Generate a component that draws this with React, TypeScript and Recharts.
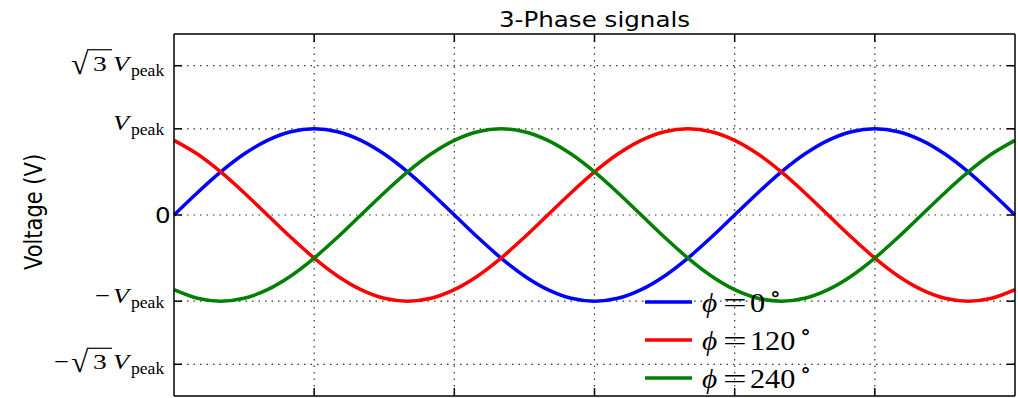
import { CartesianGrid, Legend, Line, LineChart, XAxis, YAxis } from "recharts";

/* -------------------------------------------------------------------------- */
/*  Data                                                                       */
/* -------------------------------------------------------------------------- */

// phase angle in degrees, 15° steps over one and a half cycles
const angles = [
  0, 15, 30, 45, 60, 75, 90, 105, 120, 135, 150, 165, 180, 195, 210, 225, 240,
  255, 270, 285, 300, 315, 330, 345, 360, 375, 390, 405, 420, 435, 450, 465,
  480, 495, 510, 525, 540,
];

// normalised voltage (units of V_peak) for each phase
const phase0 = [
  0, 0.259, 0.5, 0.707, 0.866, 0.966, 1, 0.966, 0.866, 0.707, 0.5, 0.259, 0,
  -0.259, -0.5, -0.707, -0.866, -0.966, -1, -0.966, -0.866, -0.707, -0.5,
  -0.259, 0, 0.259, 0.5, 0.707, 0.866, 0.966, 1, 0.966, 0.866, 0.707, 0.5,
  0.259, 0,
];
const phase120 = [
  0.866, 0.707, 0.5, 0.259, 0, -0.259, -0.5, -0.707, -0.866, -0.966, -1,
  -0.966, -0.866, -0.707, -0.5, -0.259, 0, 0.259, 0.5, 0.707, 0.866, 0.966, 1,
  0.966, 0.866, 0.707, 0.5, 0.259, 0, -0.259, -0.5, -0.707, -0.866, -0.966, -1,
  -0.966, -0.866,
];
const phase240 = [
  -0.866, -0.966, -1, -0.966, -0.866, -0.707, -0.5, -0.259, 0, 0.259, 0.5,
  0.707, 0.866, 0.966, 1, 0.966, 0.866, 0.707, 0.5, 0.259, 0, -0.259, -0.5,
  -0.707, -0.866, -0.966, -1, -0.966, -0.866, -0.707, -0.5, -0.259, 0, 0.259,
  0.5, 0.707, 0.866,
];

const gridAngles = [90, 180, 270, 360, 450];
const voltTicks = [-1.732, -1, 0, 1, 1.732];

const seriesKeys = ["p0", "p120", "p240"];
const phaseNames = ["0", "120", "240"];
const phaseColors = ["#0000ff", "#ff0000", "#008000"];

const rows = angles.map((angle, i) => ({
  angle,
  p0: phase0[i],
  p120: phase120[i],
  p240: phase240[i],
}));

/* -------------------------------------------------------------------------- */
/*  Layout                                                                     */
/* -------------------------------------------------------------------------- */

const W = 1018;
const H = 398;
const LEFT = 174;
const TOP = 34;
const RIGHT = 1015;
const BOTTOM = 396;
const TICK_LEN = 8;
const SERIF = "'Liberation Serif', 'DejaVu Serif', serif";
const SANS = "'DejaVu Sans', sans-serif";

function Serif({
  x,
  y,
  size,
  italic,
  stretch = 1.1,
  children,
}: {
  x: number;
  y: number;
  size: number;
  italic?: boolean;
  stretch?: number;
  children: React.ReactNode;
}) {
  return (
    <text
      transform={`translate(${x},${y}) scale(${stretch},1)`}
      fontFamily={SERIF}
      fontSize={size}
      fontStyle={italic ? "italic" : "normal"}
      fill="#000"
    >
      {children}
    </text>
  );
}

/* -------------------------------------------------------------------------- */
/*  Ticks                                                                      */
/* -------------------------------------------------------------------------- */

function VoltTick(props: any) {
  const { x, y, payload } = props;
  const v = Number(payload.value);
  const mag = Math.abs(v);
  const mark = (
    <line x1={x} x2={x + TICK_LEN} y1={y} y2={y} stroke="#000" strokeWidth={1.5} />
  );
  if (mag === 0) {
    return (
      <g>
        {mark}
        <text
          transform={`translate(${x - 19},${y + 8}) scale(1.2,1)`}
          fontFamily={SANS}
          fontSize={20.5}
          fill="#000"
        >
          0
        </text>
      </g>
    );
  }
  const root = mag > 1.5;
  const base = y + (root ? 5 : 1.5);
  return (
    <g>
      {mark}
      {v < 0 && (
        <Serif x={x - (root ? 120 : 79)} y={base} size={22} stretch={1.2}>
          −
        </Serif>
      )}
      {root && (
        <>
          <Serif x={x - 103} y={base + 3} size={30} stretch={1.05}>
            √
          </Serif>
          <line x1={x - 87} x2={x - 62} y1={base - 21} y2={base - 21} stroke="#000" strokeWidth={1.2} />
          <Serif x={x - 81} y={base} size={22} stretch={1.25}>
            3
          </Serif>
        </>
      )}
      <Serif x={x - 61} y={base} size={21} italic stretch={1.25}>
        V
      </Serif>
      <Serif x={x - 43} y={base + 5} size={16}>
        peak
      </Serif>
    </g>
  );
}

function RightTick(props: any) {
  const { x, y } = props;
  return <line x1={x} x2={x - TICK_LEN} y1={y} y2={y} stroke="#000" strokeWidth={1.5} />;
}

function BottomTick(props: any) {
  const { x, y } = props;
  return <line x1={x} x2={x} y1={y} y2={y - TICK_LEN} stroke="#000" strokeWidth={1.5} />;
}

function TopTick(props: any) {
  const { x, y } = props;
  return <line x1={x} x2={x} y1={y} y2={y + TICK_LEN} stroke="#000" strokeWidth={1.5} />;
}

/* -------------------------------------------------------------------------- */
/*  Legend                                                                     */
/* -------------------------------------------------------------------------- */

function PhaseLegend() {
  return (
    <svg width={220} height={130}>
      {phaseNames.map((name, i) => {
        const ly = 34 + i * 38;
        const base = ly + 9.5;
        return (
          <g key={name}>
            <line x1={5} x2={52} y1={ly} y2={ly} stroke={phaseColors[i]} strokeWidth={3.5} />
            <Serif x={62} y={base} size={28} italic stretch={1.05}>
              ϕ
            </Serif>
            <Serif x={83} y={base} size={28} stretch={1.5}>
              =
            </Serif>
            <Serif x={110} y={base} size={28} stretch={1.08}>
              {name}
              <tspan dx={4} dy={-11} fontSize={22}>
                ∘
              </tspan>
            </Serif>
          </g>
        );
      })}
    </svg>
  );
}

/* -------------------------------------------------------------------------- */
/*  Chart                                                                      */
/* -------------------------------------------------------------------------- */

export default function App() {
  const axisLine = { stroke: "#000", strokeWidth: 1.5 };
  return (
    <div style={{ position: "absolute", left: 0, top: 0, width: W, height: H, background: "#fff" }}>
      <LineChart
        width={W}
        height={H}
        data={rows}
        margin={{ top: TOP - 1, right: W - RIGHT - 1, bottom: H - BOTTOM - 1, left: 0 }}
      >
        <CartesianGrid
          stroke="#333"
          strokeWidth={1.2}
          strokeDasharray="1.5 5"
          horizontalValues={voltTicks}
          verticalValues={gridAngles}
        />
        <XAxis
          dataKey="angle"
          type="number"
          domain={[0, 540]}
          ticks={gridAngles}
          height={1}
          axisLine={axisLine}
          tickLine={false}
          tickSize={0}
          tickMargin={0}
          tick={<BottomTick />}
        />
        <XAxis
          xAxisId="top"
          orientation="top"
          dataKey="angle"
          type="number"
          domain={[0, 540]}
          ticks={gridAngles}
          height={1}
          axisLine={axisLine}
          tickLine={false}
          tickSize={0}
          tickMargin={0}
          tick={<TopTick />}
        />
        <YAxis
          type="number"
          domain={[-2.1, 2.1]}
          ticks={voltTicks}
          allowDataOverflow
          width={LEFT}
          axisLine={axisLine}
          tickLine={false}
          tickSize={0}
          tickMargin={0}
          tick={<VoltTick />}
          interval={0}
        />
        <YAxis
          yAxisId="right"
          orientation="right"
          type="number"
          domain={[-2.1, 2.1]}
          ticks={voltTicks}
          allowDataOverflow
          width={1}
          axisLine={axisLine}
          tickLine={false}
          tickSize={0}
          tickMargin={0}
          tick={<RightTick />}
          interval={0}
        />
        {seriesKeys.map((key, i) => (
          <Line
            key={key}
            dataKey={key}
            type="monotone"
            stroke={phaseColors[i]}
            strokeWidth={3.5}
            dot={false}
            activeDot={false}
            isAnimationActive={false}
          />
        ))}
        <Legend
          layout="horizontal"
          verticalAlign="middle"
          align="center"
          content={() => <PhaseLegend />}
          wrapperStyle={{ position: "absolute", left: 640, top: 268, width: 220, height: 130 }}
        />
      </LineChart>
      <svg
        width={W}
        height={H}
        style={{ position: "absolute", left: 0, top: 0, pointerEvents: "none" }}
      >
        <text
          transform={`translate(${(LEFT + RIGHT) / 2},27) scale(1.2,1)`}
          textAnchor="middle"
          fontFamily={SANS}
          fontSize={20.5}
          fill="#000"
        >
          3-Phase signals
        </text>
        <text
          transform={`translate(42,212) scale(1.2,1) rotate(-90)`}
          textAnchor="middle"
          fontFamily={SANS}
          fontSize={21}
          fill="#000"
        >
          Voltage (V)
        </text>
      </svg>
    </div>
  );
}
